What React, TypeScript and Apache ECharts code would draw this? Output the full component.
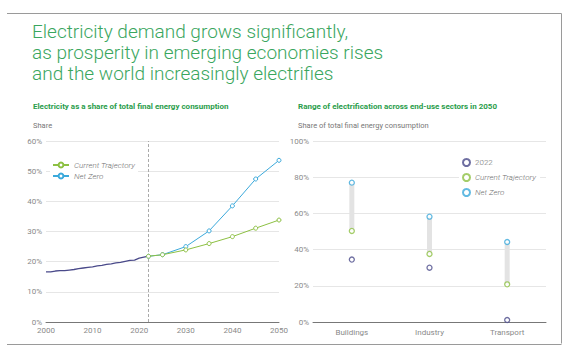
import React, { useEffect, useRef } from "react";
import * as echarts from "echarts";

const histYears = [2000, 2001, 2002, 2003, 2004, 2005, 2006, 2007, 2008, 2009, 2010, 2011, 2012, 2013, 2014, 2015, 2016, 2017, 2018, 2019, 2020, 2021, 2022];
const histValues = [16.6, 16.6, 16.9, 17.0, 17.0, 17.2, 17.4, 17.7, 17.9, 18.1, 18.3, 18.6, 18.8, 19.1, 19.3, 19.6, 19.8, 20.1, 20.4, 20.5, 21.2, 21.5, 21.8];
const projYears = [2022, 2025, 2030, 2035, 2040, 2045, 2050];
const currentTrajectory = [21.8, 22.3, 23.9, 26.0, 28.3, 31.1, 33.8];
const netZero = [21.8, 22.3, 25.0, 30.2, 38.5, 47.4, 53.6];

const sectors = ["Buildings", "Industry", "Transport"];
const sector2022 = [34.5, 30.0, 1.1];
const sectorCT = [50.3, 37.6, 20.8];
const sectorNZ = [77.0, 58.2, 44.2];

const C_HIST = "#4a4a8a";
const C_CT = "#8dc043";
const C_NZ = "#3ba9db";
const GREEN_TITLE = "#3aa65e";
const GREEN_SUB = "#2a9d4b";
const FONT = "Roboto, 'Noto Sans', sans-serif";

export default function App() {
  const ref = useRef<HTMLDivElement>(null);
  useEffect(() => {
    if (!ref.current) return;
    const chart = echarts.init(ref.current, null, { renderer: "svg" });
    const axisLabel = { color: "#8a8a8a", fontSize: 8, fontFamily: FONT };
    const splitLine = { show: true, lineStyle: { color: "#e6e6e6", width: 1 } };
    const pair = (xs: number[], ys: number[]) => xs.map((x, i) => [x, ys[i]]);
    const option: any = {
      animation: false,
      backgroundColor: "#ffffff",
      textStyle: { fontFamily: FONT },
      title: [
        {
          text: "Electricity demand grows significantly,\nas prosperity in emerging economies rises\nand the world increasingly electrifies",
          left: 27,
          top: 16,
          textStyle: { color: GREEN_TITLE, fontSize: 19, fontWeight: 300, lineHeight: 21, fontFamily: FONT },
        },
        {
          text: "Electricity as a share of total final energy consumption",
          left: 28,
          top: 97,
          textStyle: { color: GREEN_SUB, fontSize: 8, fontWeight: "bold", fontFamily: FONT },
        },
        {
          text: "Range of electrification across end-use sectors in 2050",
          left: 293,
          top: 97,
          textStyle: { color: GREEN_SUB, fontSize: 8, fontWeight: "bold", fontFamily: FONT },
        },
        {
          text: "Share",
          left: 28,
          top: 116,
          textStyle: { color: "#777", fontSize: 7.5, fontWeight: "normal", fontFamily: FONT },
        },
        {
          text: "Share of total final energy consumption",
          left: 293,
          top: 116,
          textStyle: { color: "#777", fontSize: 7.5, fontWeight: "normal", fontFamily: FONT },
        },
      ],
      graphic: [
        { type: "line", shape: { x1: 7, y1: 13.5, x2: 561.5, y2: 13.5 }, style: { stroke: "#9a9a9a", lineWidth: 1 } },
        { type: "line", shape: { x1: 561.5, y1: 13.5, x2: 561.5, y2: 343.5 }, style: { stroke: "#9a9a9a", lineWidth: 1 } },
        { type: "line", shape: { x1: 7, y1: 344.5, x2: 561.5, y2: 344.5 }, style: { stroke: "#9a9a9a", lineWidth: 1 } },
      ],
      legend: [
        {
          data: ["Current Trajectory", "Net Zero"],
          orient: "vertical",
          left: 50,
          top: 161,
          itemGap: 3,
          itemWidth: 16,
          itemHeight: 6,
          backgroundColor: "#ffffff",
          padding: [0, 3, 0, 2],
          textStyle: { color: "#707070", fontSize: 8, fontStyle: "italic", fontWeight: 300, fontFamily: FONT },
        },
        {
          data: [
            { name: "2022", textStyle: { fontStyle: "normal" } },
            { name: "CT2050", textStyle: { fontStyle: "italic" } },
            { name: "NZ2050", textStyle: { fontStyle: "italic" } },
          ],
          formatter: (n: string) => (n === "CT2050" ? "Current Trajectory" : n === "NZ2050" ? "Net Zero" : n),
          orient: "vertical",
          left: 459,
          top: 157,
          itemGap: 6,
          itemWidth: 7,
          itemHeight: 7,
          backgroundColor: "#ffffff",
          padding: [1, 4, 1, 3],
          textStyle: { color: "#707070", fontSize: 8, fontWeight: 300, fontFamily: FONT },
        },
      ],
      grid: [
        { left: 46, right: 298, top: 141, bottom: 28 },
        { left: 313, right: 31, top: 141, bottom: 28 },
      ],
      xAxis: [
        {
          type: "value",
          gridIndex: 0,
          min: 2000,
          max: 2050,
          interval: 10,
          axisLine: { show: true, lineStyle: { color: "#777", width: 1 } },
          axisTick: { show: false },
          splitLine: { show: false },
          axisLabel: { ...axisLabel, margin: 4, formatter: (v: number) => String(v) },
        },
        {
          type: "category",
          gridIndex: 1,
          data: sectors,
          axisLine: { show: true, lineStyle: { color: "#777", width: 1 } },
          axisTick: { show: false },
          axisLabel: { ...axisLabel, margin: 6 },
        },
      ],
      yAxis: [
        {
          type: "value",
          gridIndex: 0,
          min: 0,
          max: 60,
          interval: 10,
          axisLine: { show: false },
          axisTick: { show: false },
          splitLine,
          axisLabel: { ...axisLabel, margin: 4, formatter: "{value}%" },
        },
        {
          type: "value",
          gridIndex: 1,
          min: 0,
          max: 100,
          interval: 20,
          axisLine: { show: false },
          axisTick: { show: false },
          splitLine,
          axisLabel: { ...axisLabel, margin: 4, formatter: "{value}%" },
        },
      ],
      series: [
        {
          name: "History",
          type: "line",
          xAxisIndex: 0,
          yAxisIndex: 0,
          data: pair(histYears, histValues),
          showSymbol: false,
          lineStyle: { color: C_HIST, width: 1.3 },
          itemStyle: { color: C_HIST },
          markLine: {
            silent: true,
            symbol: "none",
            label: { show: false },
            lineStyle: { color: "#aaaaaa", type: [3, 2], width: 1 },
            data: [{ xAxis: 2022 }],
          },
          z: 3,
        },
        {
          name: "Net Zero",
          type: "line",
          xAxisIndex: 0,
          yAxisIndex: 0,
          data: pair(projYears, netZero),
          symbol: "circle",
          symbolSize: 4,
          lineStyle: { color: C_NZ, width: 1 },
          itemStyle: { color: "#fff", borderColor: C_NZ, borderWidth: 1 },
          z: 4,
        },
        {
          name: "Current Trajectory",
          type: "line",
          xAxisIndex: 0,
          yAxisIndex: 0,
          data: pair(projYears, currentTrajectory),
          symbol: "circle",
          symbolSize: 4,
          lineStyle: { color: C_CT, width: 1 },
          itemStyle: { color: "#fff", borderColor: C_CT, borderWidth: 1 },
          z: 5,
        },
        {
          name: "rangeBase",
          type: "bar",
          xAxisIndex: 1,
          yAxisIndex: 1,
          stack: "range",
          data: sectorCT,
          barWidth: 5,
          itemStyle: { color: "transparent" },
          silent: true,
        },
        {
          name: "range",
          type: "bar",
          xAxisIndex: 1,
          yAxisIndex: 1,
          stack: "range",
          data: sectorNZ.map((v, i) => +(v - sectorCT[i]).toFixed(2)),
          barWidth: 5,
          itemStyle: { color: "#e3e3e3" },
          silent: true,
        },
        {
          name: "2022",
          type: "scatter",
          xAxisIndex: 1,
          yAxisIndex: 1,
          data: sector2022,
          symbol: "circle",
          symbolSize: 5,
          itemStyle: { color: "#fff", borderColor: C_HIST, borderWidth: 1.3 },
          z: 5,
        },
        {
          name: "CT2050",
          type: "scatter",
          xAxisIndex: 1,
          yAxisIndex: 1,
          data: sectorCT,
          symbol: "circle",
          symbolSize: 5,
          itemStyle: { color: "#fff", borderColor: C_CT, borderWidth: 1.3 },
          z: 5,
        },
        {
          name: "NZ2050",
          type: "scatter",
          xAxisIndex: 1,
          yAxisIndex: 1,
          data: sectorNZ,
          symbol: "circle",
          symbolSize: 5,
          itemStyle: { color: "#fff", borderColor: C_NZ, borderWidth: 1.3 },
          z: 5,
        },
      ],
    };
    chart.setOption(option);
    return () => chart.dispose();
  }, []);
  return (
    <div
      ref={ref}
      style={{ position: "fixed", left: 0, top: 0, width: 577, height: 350, background: "#fff" }}
    />
  );
}
